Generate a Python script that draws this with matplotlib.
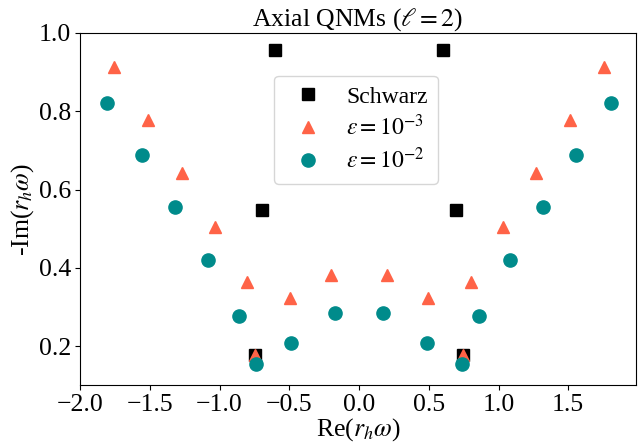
import matplotlib
matplotlib.use("Agg")
import matplotlib.pyplot as plt
import numpy as np

plt.rcParams['font.family'] = ['Liberation Serif', 'DejaVu Serif']
plt.rcParams['mathtext.fontset'] = 'stix'

# Schwarzschild axial l=2 QNMs (r_h * omega)
schw_re = [-0.6021, -0.6934, -0.7473, 0.7473, 0.6934, 0.6021]
schw_im = [0.9566, 0.5478, 0.1779, 0.1779, 0.5478, 0.9566]

# epsilon = 1e-3
e3_re = [-1.758, -1.510, -1.270, -1.033, -0.805, -0.498, -0.746, -0.200,
         0.200, 0.746, 0.498, 0.805, 1.033, 1.270, 1.510, 1.758]
e3_im = [0.913, 0.778, 0.643, 0.504, 0.365, 0.324, 0.177, 0.381,
         0.381, 0.177, 0.324, 0.365, 0.504, 0.643, 0.778, 0.913]

# epsilon = 1e-2
e2_re = [-1.808, -1.558, -1.320, -1.085, -0.861, -0.489, -0.741, -0.172,
         0.172, 0.741, 0.489, 0.861, 1.085, 1.320, 1.558, 1.808]
e2_im = [0.822, 0.689, 0.556, 0.419, 0.277, 0.207, 0.155, 0.286,
         0.286, 0.155, 0.207, 0.277, 0.419, 0.556, 0.689, 0.822]

fig = plt.figure(figsize=(6.41, 4.45), dpi=100)
ax = fig.add_axes([0.125, 0.134, 0.867, 0.792])

ax.plot(schw_re, schw_im, 's', color='black', markersize=8.5, linestyle='none', label='Schwarz')
ax.plot(e3_re, e3_im, '^', color='tomato', markersize=9, linestyle='none', label=r'$\varepsilon = 10^{-3}$')
ax.plot(e2_re, e2_im, 'o', color='darkcyan', markersize=9.5, linestyle='none', label=r'$\varepsilon = 10^{-2}$')

ax.set_xlim(-2.0, 1.985)
ax.set_ylim(0.1, 1.0)
ax.set_xticks([-2.0, -1.5, -1.0, -0.5, 0.0, 0.5, 1.0, 1.5])
ax.set_yticks([0.2, 0.4, 0.6, 0.8, 1.0])
ax.tick_params(labelsize=18.5, length=3.5, pad=3)

ax.set_xlabel(r'Re($r_h\omega$)', fontsize=18.5, labelpad=0)
ax.set_ylabel(r'-Im($r_h\omega$)', fontsize=18.5, labelpad=2)
ax.set_title(r'Axial QNMs ($\ell = 2$)', fontsize=18.5, pad=2)

ax.legend(loc='upper left', bbox_to_anchor=(0.349, 0.879), borderaxespad=0,
          fontsize=17, handletextpad=0.6, borderpad=0.45, labelspacing=0.3)

fig.savefig('out.png', dpi=100)
